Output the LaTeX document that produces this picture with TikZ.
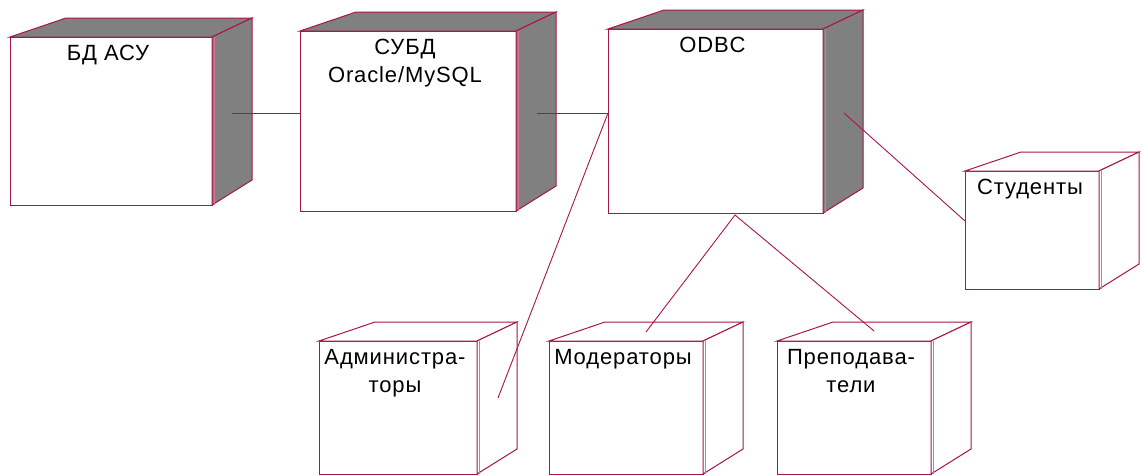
\documentclass[tikz,border=0pt]{standalone}
\usepackage{fontspec}
\setmainfont{Liberation Sans}
\usetikzlibrary{calc}
\definecolor{rosa}{RGB}{168,22,72}
\definecolor{rosalight}{RGB}{214,120,150}
\definecolor{gran}{RGB}{128,128,128}
\begin{document}
\begin{tikzpicture}[x=1pt, y=-1pt,
      uzel/.style 2 args={shape=rectangle, draw=rosa, fill=white,
        line width=1pt, inner sep=0pt, outer sep=0pt,
        minimum width=#1, minimum height=#2
      },
      grani/.style={draw=rosa, line width=1pt, line join=miter},
      kromka/.style={draw=rosalight, line width=1pt},
      svyaz/.style={draw=rosa, line width=0.9pt},
      nadpis/.style={font=\fontsize{22}{28}\selectfont\addfontfeatures{LetterSpace=4},
        align=center, anchor=north, inner sep=0pt}
    ]
        \useasboundingbox (0,0) rectangle (1143,475);

        % передние грани узлов
        \node[uzel={202}{168}] (bdasu) at (111,121) {};
        \node[uzel={216}{180}] (subd) at (408,121) {};
        \node[uzel={215}{184}] (odbc) at (715.5,121) {};
        \node[uzel={134}{118}] (stud) at (1032,230) {};
        \node[uzel={158}{133}] (admin) at (398,407.5) {};
        \node[uzel={154}{133}] (moder) at (626,407.5) {};
        \node[uzel={154}{133}] (prep) at (854,407.5) {};

        % верх и бок
        \foreach \n/\f in {bdasu/gran, subd/gran, odbc/gran,
                           stud/white, admin/white, moder/white, prep/white}{
          \draw[grani, fill=\f] (\n.north west) -- ++(56,-19)
            -- ($(\n.north east)+(40,-19)$) -- (\n.north east) -- cycle;
          \draw[grani, fill=\f] (\n.north east) -- ++(40,-19)
            -- ($(\n.south east)+(40,-25)$) -- (\n.south east) -- cycle;
          \draw[kromka] ([xshift=2pt]\n.north east) -- ([xshift=2pt]\n.south east);
        }

        % связи
        \coordinate (bdasu-p) at (232,113);
        \coordinate (subd-p) at (537,113);
        \coordinate (odbc-l) at (subd-p -| odbc.west);
        \coordinate (odbc-r) at (844,113);
        \coordinate (odbc-b) at (735,215);
        \coordinate (admin-p) at (498,398);
        \coordinate (moder-p) at (646,332);
        \coordinate (prep-p) at (874,331);
        \draw[svyaz] (bdasu-p) -- (bdasu-p -| subd.west);
        \draw[svyaz] (subd-p) -- (odbc-l);
        \draw[svyaz] (odbc-l) -- (admin-p);
        \draw[svyaz] (odbc-r) -- ([yshift=9pt]stud.west);
        \draw[svyaz] (moder-p) -- (odbc-b) -- (prep-p);

        % подписи
        \node[nadpis] (bdasu-t) at ([shift={(-3,8)}]bdasu.north) {БД АСУ};
        \node[nadpis] (subd-t) at ([shift={(-3,8)}]subd.north) {СУБД\\Oracle/MySQL};
        \node[nadpis] (odbc-t) at ([shift={(-3,8)}]odbc.north) {ODBC};
        \node[nadpis] (stud-t) at ([shift={(-2,8)}]stud.north) {Студенты};
        \node[nadpis] (admin-t) at ([shift={(-3,8)}]admin.north) {Администра-\\торы};
        \node[nadpis] (moder-t) at ([shift={(-3,8)}]moder.north) {Модераторы};
        \node[nadpis] (prep-t) at ([shift={(-3,8)}]prep.north) {Преподава-\\тели};
    \end{tikzpicture}
\end{document}
